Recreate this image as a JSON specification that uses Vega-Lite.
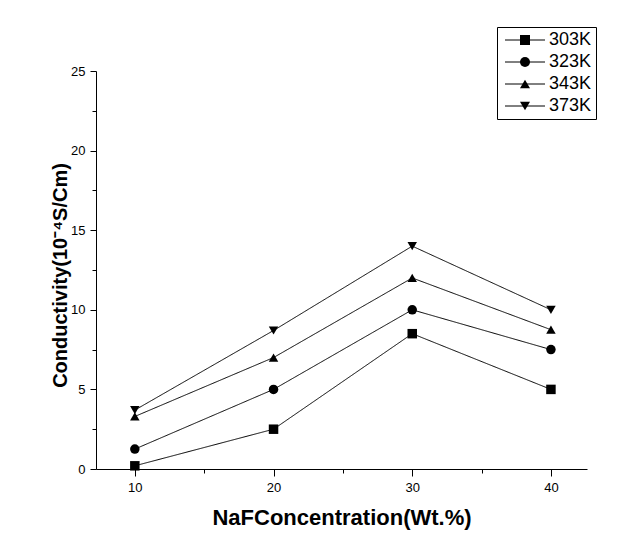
{
  "$schema": "https://vega.github.io/schema/vega-lite/v6.json",
  "width": 491,
  "height": 398,
  "autosize": {"type": "none"},
  "padding": {"left": 96, "top": 71, "right": 48, "bottom": 80},
  "background": "white",
  "config": {
    "view": {"stroke": null},
    "font": "Liberation Sans",
    "axis": {"grid": false, "domainColor": "black", "tickColor": "black", "labelColor": "black", "titleColor": "black", "labelFont": "Liberation Sans", "titleFont": "Liberation Sans", "labelFontSize": 13, "titleFontWeight": "bold", "domainWidth": 1, "tickWidth": 1}
  },
  "data": {
    "values": [
      {"conc": 10, "T": "303K", "cond": 0.2},
      {"conc": 20, "T": "303K", "cond": 2.5},
      {"conc": 30, "T": "303K", "cond": 8.5},
      {"conc": 40, "T": "303K", "cond": 5.0},
      {"conc": 10, "T": "323K", "cond": 1.25},
      {"conc": 20, "T": "323K", "cond": 5.0},
      {"conc": 30, "T": "323K", "cond": 10.0},
      {"conc": 40, "T": "323K", "cond": 7.5},
      {"conc": 10, "T": "343K", "cond": 3.3},
      {"conc": 20, "T": "343K", "cond": 7.0},
      {"conc": 30, "T": "343K", "cond": 12.0},
      {"conc": 40, "T": "343K", "cond": 8.75},
      {"conc": 10, "T": "373K", "cond": 3.7},
      {"conc": 20, "T": "373K", "cond": 8.7},
      {"conc": 30, "T": "373K", "cond": 14.0},
      {"conc": 40, "T": "373K", "cond": 10.0}
    ]
  },
  "encoding": {
    "x": {
      "field": "conc", "type": "quantitative",
      "scale": {"domain": [7.2, 42.6], "nice": false, "zero": false},
      "axis": {
        "title": "NaFConcentration(Wt.%)", "titleFontSize": 22, "titlePadding": 13,
        "values": [10, 15, 20, 25, 30, 35, 40],
        "labelExpr": "datum.value % 10 === 0 ? datum.label : ''",
        "tickSize": {"condition": {"test": "datum.value % 10 === 0", "value": 7}, "value": 4},
        "labelPadding": 5,
        "labelFlush": false
      }
    },
    "y": {
      "field": "cond", "type": "quantitative",
      "scale": {"domain": [0, 25], "nice": false},
      "axis": {
        "title": "Conductivity(10⁻⁴S/Cm)", "titleFontSize": 20,
        "values": [0, 2.5, 5, 7.5, 10, 12.5, 15, 17.5, 20, 22.5, 25],
        "labelExpr": "datum.value % 5 === 0 ? datum.label : ''",
        "tickSize": {"condition": {"test": "datum.value % 5 === 0", "value": 6}, "value": 4},
        "labelPadding": 5,
        "labelFlush": false,
        "titleX": -30, "titleY": 204, "titleBaseline": "alphabetic", "titleAlign": "center", "titleAngle": -90
      }
    }
  },
  "layer": [
    {
      "mark": {"type": "line", "color": "black", "strokeWidth": 1},
      "encoding": {
        "detail": {"field": "T"},
        "strokeDash": {
          "field": "T", "type": "nominal",
          "scale": {"domain": ["303K", "323K", "343K", "373K"], "range": [[1, 0], [1, 0], [1, 0], [1, 0]]},
          "legend": {
            "title": null,
            "orient": "none", "legendX": 401, "legendY": -44,
            "strokeColor": "black", "padding": 4,
            "labelFontSize": 18, "labelFont": "Liberation Sans", "labelColor": "black", "labelOpacity": 0,
            "symbolType": "M-4,0L4,0", "symbolSize": 100, "symbolOffset": 15, "labelOffset": 15, "rowPadding": 4,
            "symbolStrokeColor": "black", "symbolStrokeWidth": 1, "symbolFillColor": "transparent"
          }
        }
      }
    },
    {
      "mark": {"type": "point", "filled": true, "color": "black", "opacity": 1, "size": 90},
      "encoding": {
        "shape": {
          "field": "T", "type": "nominal",
          "scale": {"range": ["square", "circle", "triangle-up", "triangle-down"]},
          "legend": {
            "title": null,
            "orient": "none", "legendX": 401, "legendY": -44,
            "padding": 4,
            "labelFontSize": 18, "labelFont": "Liberation Sans", "labelColor": "black",
            "symbolSize": 100, "symbolOffset": 15, "labelOffset": 15, "rowPadding": 4,
            "symbolFillColor": "black", "symbolStrokeColor": "black", "symbolStrokeWidth": 1
          }
        }
      }
    }
  ]
}
